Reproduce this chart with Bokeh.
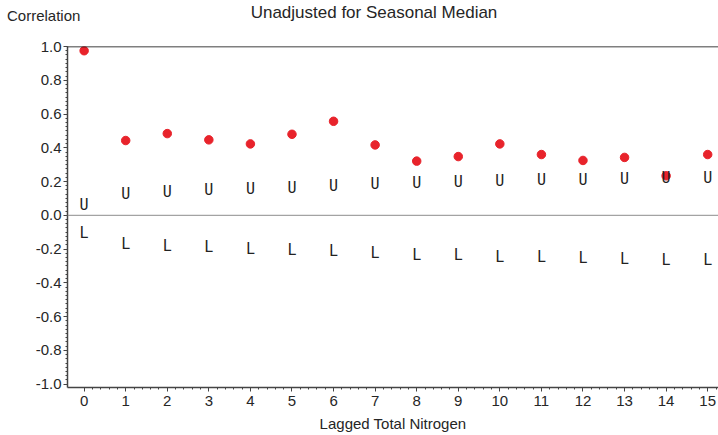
import numpy as np
from bokeh.plotting import figure
from bokeh.layouts import column
from bokeh.models import Range1d, FixedTicker, PrintfTickFormatter, Span, Div, ColumnDataSource
from bokeh.core.properties import value
from bokeh.embed import file_html
from bokeh.resources import INLINE

# ---- data ----
lags = list(range(16))
correlation = [0.975, 0.443, 0.484, 0.447, 0.423, 0.480, 0.557, 0.417,
               0.321, 0.348, 0.423, 0.360, 0.325, 0.343, 0.234, 0.360]
upper = [0.063, 0.124, 0.138, 0.148, 0.155, 0.163, 0.171, 0.183,
         0.191, 0.195, 0.201, 0.207, 0.211, 0.217, 0.220, 0.223]
lower = [-0.106, -0.167, -0.179, -0.189, -0.197, -0.205, -0.214, -0.224,
         -0.233, -0.238, -0.244, -0.248, -0.252, -0.258, -0.262, -0.263]
y_ticks = [-1.0, -0.8, -0.6, -0.4, -0.2, 0.0, 0.2, 0.4, 0.6, 0.8, 1.0]
x_ticks = lags
title_text = "Unadjusted for Seasonal Median"
y_label = "Correlation"
x_label = "Lagged Total Nitrogen"

FONT = "Liberation Sans"
TXT = "#262626"
MARK_FONT = "DejaVu Sans Mono"

HEADER_H = 26
header = Div(
    width=718, height=HEADER_H, margin=(0, 0, 0, 0),
    text=(
        f'<div style="position:relative;width:718px;height:{HEADER_H}px;'
        f'font-family:\'{FONT}\',Arial,sans-serif;color:{TXT};">'
        f'<span style="position:absolute;left:7px;top:8px;font-size:15px;line-height:15px;'
        f'white-space:nowrap;">{y_label}</span>'
        f'<span style="position:absolute;left:374px;top:4px;font-size:17px;line-height:17px;'
        f'white-space:nowrap;transform:translateX(-50%);">{title_text}</span>'
        f'</div>'
    ),
)

p = figure(width=718, height=435 - HEADER_H, output_backend="svg", toolbar_location=None,
           x_range=Range1d(-0.4, 15.26), y_range=Range1d(-1.02, 1.0),
           min_border_left=67, min_border_right=0, min_border_top=20, min_border_bottom=48,
           margin=(0, 0, 0, 0))
p.outline_line_color = None
p.xgrid.visible = False
p.ygrid.visible = False
p.background_fill_color = "white"
p.border_fill_color = "white"

# axes
for ax in (p.xaxis[0], p.yaxis[0]):
    ax.axis_line_color = "#444444"
    ax.axis_line_width = 1.5
    ax.major_tick_line_color = "#444444"
    ax.minor_tick_line_color = "#444444"
    ax.major_tick_in = 0
    ax.minor_tick_in = 0
    ax.major_label_text_font = FONT
    ax.major_label_text_font_size = "15px"
    ax.major_label_text_color = TXT

p.yaxis.ticker = FixedTicker(ticks=y_ticks, minor_ticks=list(np.round(np.arange(-1.0, 1.0001, 0.025), 4)))
p.yaxis.formatter = PrintfTickFormatter(format="%.1f")
p.yaxis.major_tick_out = 4
p.yaxis.minor_tick_out = 2
p.yaxis.major_label_standoff = 2

p.xaxis.ticker = FixedTicker(ticks=x_ticks, minor_ticks=list(np.round(np.arange(0, 15.3, 0.2), 4)))
p.xaxis.major_tick_out = 4
p.xaxis.minor_tick_out = 2
p.xaxis.major_label_standoff = 4
p.xaxis.axis_label = x_label
p.xaxis.axis_label_text_font = FONT
p.xaxis.axis_label_text_font_size = "15px"
p.xaxis.axis_label_text_font_style = "normal"
p.xaxis.axis_label_text_color = TXT
p.xaxis.axis_label_standoff = 6

# reference lines
p.add_layout(Span(location=1.0, dimension="width", line_color="black", line_width=1.5))
p.add_layout(Span(location=0.0, dimension="width", line_color="#8c8c8c", line_width=1))

src = ColumnDataSource(dict(lag=lags, corr=correlation, up=upper, lo=lower,
                            u=["U"] * len(lags), l=["L"] * len(lags)))

p.scatter("lag", "corr", source=src, size=8.5, fill_color="#e8232b", line_color="#e8232b")
p.text("lag", "up", text="u", source=src, text_align="center", text_baseline="middle",
       text_font=value(MARK_FONT), text_font_size="15px", text_color="#222222")
p.text("lag", "lo", text="l", source=src, text_align="center", text_baseline="middle",
       text_font=value(MARK_FONT), text_font_size="15px", text_color="#222222")

layout = column(header, p, spacing=0, margin=(0, 0, 0, 0))
open("out.html", "w").write(file_html(layout, INLINE))
